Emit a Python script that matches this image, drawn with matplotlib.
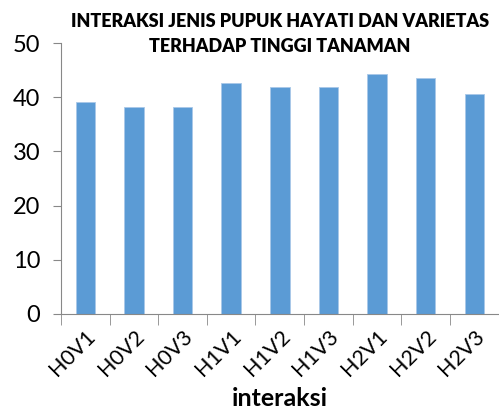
import matplotlib.pyplot as plt
import numpy as np

plt.rcParams['font.family'] = ['Lato', 'DejaVu Sans']

categories = ["H0V1", "H0V2", "H0V3", "H1V1", "H1V2", "H1V3", "H2V1", "H2V2", "H2V3"]
tinggi = [39.1, 38.3, 38.3, 42.6, 42.0, 42.0, 44.3, 43.5, 40.7]

fig = plt.figure(figsize=(4.99, 4.09), dpi=100)
ax = fig.add_axes([0.1222, 0.233, 0.877, 0.661])

x = np.arange(len(categories))
ax.bar(x, tinggi, width=0.4, color="#5B9BD5", edgecolor="#A9C8E8", linewidth=0.6, zorder=2)

ax.set_xlim(-0.5, len(categories) - 0.5)
ax.set_ylim(0, 50)
ax.set_yticks(range(0, 51, 10))
ax.tick_params(axis='y', labelsize=17, length=6, color="#888888", direction='out', pad=9)

# category ticks between bars, labels at bar centres
ax.set_xticks(x)
ax.set_xticklabels(categories, rotation=45, ha='right', rotation_mode='anchor', fontsize=15.5)
ax.tick_params(axis='x', length=0, pad=9)
ax.set_xticks(np.arange(-0.5, len(categories), 1), minor=True)
ax.tick_params(axis='x', which='minor', length=8, color="#888888", direction='out')

for side in ["top", "right"]:
    ax.spines[side].set_visible(False)
ax.spines["left"].set_color("#888888")
ax.spines["bottom"].set_color("#888888")

ax.set_xlabel("interaksi", fontsize=18, fontweight='bold', labelpad=5)

ax.text(0.5, 1.035, "INTERAKSI JENIS PUPUK HAYATI DAN VARIETAS\nTERHADAP TINGGI TANAMAN",
        transform=ax.transAxes, ha='center', va='center', fontsize=13,
        fontweight='heavy', linespacing=1.6)

fig.savefig("out.png", dpi=100)
